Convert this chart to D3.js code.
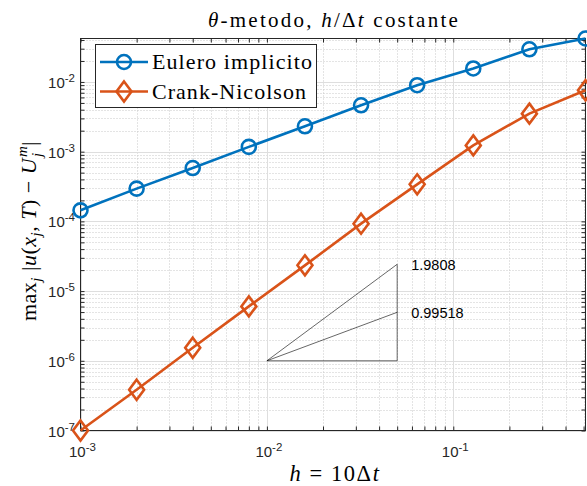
<!DOCTYPE html>
<html><head><meta charset="utf-8">
<script src="https://cdn.jsdelivr.net/npm/d3@7"></script>
<style>body{margin:0;background:#fff}</style></head>
<body><svg id="c" width="587" height="486"></svg>
<script>
const hValues   = [0.001, 0.002, 0.004, 0.008, 0.016, 0.032, 0.064, 0.128, 0.256, 0.512];
const euleroErr = [1.44e-4, 2.95e-4, 5.82e-4, 1.17e-3, 2.31e-3, 4.63e-3, 8.97e-3, 1.56e-2, 2.94e-2, 4.2e-2];
const crankErr  = [1.0e-7, 3.84e-7, 1.54e-6, 6.03e-6, 2.34e-5, 9.27e-5, 3.40e-4, 1.23e-3, 3.51e-3, 7.6e-3];
const seriesNames = ["Eulero implicito", "Crank-Nicolson"];
const xTickExps = [-3, -2, -1];
const yTickExps = [-7, -6, -5, -4, -3, -2];
const slopes = [1.9808, 0.99518];
const slopeLabels = ["1.9808", "0.99518"];
const triX = [0.01, 0.05];
const triY0 = 1e-6;

const svg = d3.select("#c");
const L = 80.5, R = 585.5, T = 38.5, B = 430.5;
const x = d3.scaleLog().domain([hValues[0], hValues[hValues.length-1]]).range([L, R]);
const y = d3.scaleLog().domain([d3.min(crankErr), d3.max(euleroErr)]).range([B, T]);
const axisCol = "#262626";
const blue = "#0072BD", orange = "#D95319";
const serif = "'Liberation Serif', 'DejaVu Serif', serif";
const sans = "'Liberation Sans', Arial, sans-serif";

// widen a text element to a target width via letter-spacing
function fitWidth(sel, target) {
  const n = sel.node();
  const w = n.getComputedTextLength();
  const chars = n.textContent.length;
  if (chars > 1) sel.attr("letter-spacing", ((target - w) / chars).toFixed(2));
}

function logTicks(d0, d1) {
  const maj = [], min = [];
  for (let e = Math.floor(Math.log10(d0)) ; e <= Math.ceil(Math.log10(d1)); e++) {
    for (let k = 1; k < 10; k++) {
      const v = k * Math.pow(10, e);
      if (v < d0 * 0.9999 || v > d1 * 1.0001) continue;
      (k === 1 ? maj : min).push(v);
    }
  }
  return {maj, min};
}
const xt = logTicks(x.domain()[0], x.domain()[1]);
const yt = logTicks(y.domain()[0], y.domain()[1]);

const g = svg.append("g");
g.append("g").selectAll("line").data(xt.min).join("line")
  .attr("x1", d => Math.round(x(d)) + 0.5).attr("x2", d => Math.round(x(d)) + 0.5)
  .attr("y1", T).attr("y2", B).attr("stroke", "#c8c8c8").attr("stroke-dasharray", "1,2").attr("stroke-width", 1);
g.append("g").selectAll("line").data(yt.min).join("line")
  .attr("y1", d => Math.round(y(d)) + 0.5).attr("y2", d => Math.round(y(d)) + 0.5)
  .attr("x1", L).attr("x2", R).attr("stroke", "#c8c8c8").attr("stroke-dasharray", "1,2").attr("stroke-width", 1);
g.append("g").selectAll("line").data(xt.maj).join("line")
  .attr("x1", d => Math.round(x(d)) + 0.5).attr("x2", d => Math.round(x(d)) + 0.5)
  .attr("y1", T).attr("y2", B).attr("stroke", "#dedede").attr("stroke-width", 1);
g.append("g").selectAll("line").data(yt.maj).join("line")
  .attr("y1", d => Math.round(y(d)) + 0.5).attr("y2", d => Math.round(y(d)) + 0.5)
  .attr("x1", L).attr("x2", R).attr("stroke", "#dedede").attr("stroke-width", 1);

const tickLen = 4;
const allX = xt.maj.concat(xt.min), allY = yt.maj.concat(yt.min);
function styleAxis(sel) {
  sel.select(".domain").remove();
  sel.selectAll(".tick line").attr("stroke", axisCol).attr("stroke-width", 1);
  sel.selectAll(".tick text").remove();
}
svg.append("g").attr("transform", `translate(0,${B})`)
  .call(d3.axisBottom(x).tickValues(allX).tickSizeInner(-tickLen).tickSizeOuter(0)).call(styleAxis);
svg.append("g").attr("transform", `translate(0,${T})`)
  .call(d3.axisTop(x).tickValues(allX).tickSizeInner(-tickLen).tickSizeOuter(0)).call(styleAxis);
svg.append("g").attr("transform", `translate(${L},0)`)
  .call(d3.axisLeft(y).tickValues(allY).tickSizeInner(-tickLen).tickSizeOuter(0)).call(styleAxis);
svg.append("g").attr("transform", `translate(${R},0)`)
  .call(d3.axisRight(y).tickValues(allY).tickSizeInner(-tickLen).tickSizeOuter(0)).call(styleAxis);
svg.append("rect").attr("x", L).attr("y", T).attr("width", R - L).attr("height", B - T)
  .attr("fill", "none").attr("stroke", axisCol).attr("stroke-width", 1);

function powLabel(sel, e) {
  sel.append("tspan").text("10");
  sel.append("tspan").attr("dy", -6).attr("font-size", 11.5).text(String(e));
}
svg.append("g").selectAll("text").data(xTickExps).join("text")
  .attr("x", d => x(Math.pow(10, d)) + 2).attr("y", 457)
  .attr("text-anchor", "middle").attr("font-family", sans).attr("font-size", 15).attr("fill", axisCol)
  .each(function(d) { powLabel(d3.select(this), d); });
svg.append("g").selectAll("text").data(yTickExps).join("text")
  .attr("x", 75).attr("y", d => y(Math.pow(10, d)) + 6)
  .attr("text-anchor", "end").attr("font-family", sans).attr("font-size", 15).attr("fill", axisCol)
  .each(function(d) { powLabel(d3.select(this), d); });

const tri = svg.append("g").attr("stroke", "#000").attr("stroke-width", 0.6).attr("fill", "none");
const yTop = slopes.map(s => triY0 * Math.pow(triX[1] / triX[0], s));
tri.append("line").attr("x1", x(triX[0])).attr("y1", y(triY0)).attr("x2", x(triX[1])).attr("y2", y(triY0));
tri.append("line").attr("x1", x(triX[1])).attr("y1", y(triY0)).attr("x2", x(triX[1])).attr("y2", y(yTop[0]));
yTop.forEach(v => tri.append("line").attr("x1", x(triX[0])).attr("y1", y(triY0)).attr("x2", x(triX[1])).attr("y2", y(v)));
svg.append("g").selectAll("text").data(slopeLabels).join("text")
  .attr("x", x(triX[1]) + 14).attr("y", (d, i) => y(yTop[i]) + 6)
  .attr("font-family", sans).attr("font-size", 14.5).attr("fill", "#000").text(d => d);

const line = d3.line().x(d => x(d[0])).y(d => y(d[1]));
const diamond = "M0,-10L7.5,0L0,10L-7.5,0Z";
function drawSeries(vals, col, type) {
  const pts = hValues.map((h, i) => [h, vals[i]]);
  svg.append("path").datum(pts).attr("d", line).attr("fill", "none").attr("stroke", col).attr("stroke-width", 2.6);
  const m = svg.append("g").selectAll("g").data(pts).join("g")
    .attr("transform", d => `translate(${x(d[0])},${y(d[1])})`);
  if (type === "o") m.append("circle").attr("r", 7).attr("fill", "none").attr("stroke", col).attr("stroke-width", 2.6);
  else m.append("path").attr("d", diamond).attr("fill", "none").attr("stroke", col).attr("stroke-width", 2.6);
}
drawSeries(euleroErr, blue, "o");
drawSeries(crankErr, orange, "d");

const lg = svg.append("g");
lg.append("rect").attr("x", 95.5).attr("y", 44.5).attr("width", 221).attr("height", 63)
  .attr("fill", "#fff").attr("stroke", axisCol).attr("stroke-width", 1);
const legendWidths = [161, 155];
[[blue, "o", 62], [orange, "d", 91.5]].forEach(([col, type, ly], i) => {
  lg.append("line").attr("x1", 100).attr("x2", 148).attr("y1", ly).attr("y2", ly).attr("stroke", col).attr("stroke-width", 2.6);
  if (type === "o") lg.append("circle").attr("cx", 124).attr("cy", ly).attr("r", 7).attr("fill", "none").attr("stroke", col).attr("stroke-width", 2.6);
  else lg.append("path").attr("transform", `translate(124,${ly})`).attr("d", diamond).attr("fill", "none").attr("stroke", col).attr("stroke-width", 2.6);
  const t = lg.append("text").attr("x", 152).attr("y", ly + 7).attr("font-family", serif).attr("font-size", 22)
    .attr("fill", "#000").text(seriesNames[i]);
  fitWidth(t, legendWidths[i]);
});

const title = svg.append("text").attr("x", 334).attr("y", 27).attr("text-anchor", "middle")
  .attr("font-family", serif).attr("font-size", 21).attr("fill", "#000");
[["θ", true], ["-metodo, ", false], ["h", true], ["/Δ", false], ["t", true], [" costante", false]]
  .forEach(([t, it]) => title.append("tspan").attr("font-style", it ? "italic" : "normal").text(t));
fitWidth(title, 252);

const xl = svg.append("text").attr("x", 335).attr("y", 481).attr("text-anchor", "middle")
  .attr("font-family", serif).attr("font-size", 22.5).attr("fill", "#000");
[["h", true], [" = 10Δ", false], ["t", true]].forEach(([t, it]) => xl.append("tspan").attr("font-style", it ? "italic" : "normal").text(t));
fitWidth(xl, 91);

// y label (rotated), built left-to-right then centred
const yl = svg.append("text").attr("font-family", serif).attr("font-size", 22).attr("fill", "#000").attr("letter-spacing", 0.5);
const parts = [
  ["max", false, 0, 22], ["j", true, 5, 15], [" |", false, 0, 22], ["u", true, 0, 22], ["(", false, 0, 22],
  ["x", true, 0, 22], ["j", true, 5, 15], [", ", false, 0, 22], ["T", true, 0, 22], [") − ", false, 0, 22],
  ["U", true, 0, 22]
];
let prevShift = 0;
parts.forEach(([t, it, shift, fs]) => {
  yl.append("tspan").attr("font-style", it ? "italic" : "normal").attr("font-size", fs)
    .attr("dy", shift - prevShift).text(t);
  prevShift = shift;
});
const mSpan = yl.append("tspan").attr("font-style", "italic").attr("font-size", 15).attr("dy", -9 - prevShift).attr("dx", 1).text("m");
const mW = mSpan.node().getComputedTextLength();
yl.append("tspan").attr("font-style", "italic").attr("font-size", 15).attr("dx", -mW).attr("dy", 15).text("j");
yl.append("tspan").attr("font-size", 22).attr("dx", mW - 5).attr("dy", -6).text("|");
const bb = yl.node().getBBox();
yl.attr("transform", `translate(36,${231 + bb.width / 2}) rotate(-90)`);
</script></body></html>
